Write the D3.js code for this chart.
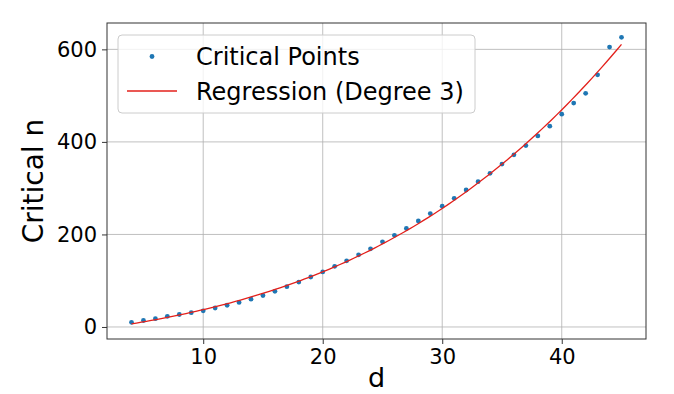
<!DOCTYPE html>
<html>
<head>
<meta charset="utf-8">
<script src="https://cdn.jsdelivr.net/npm/d3@7"></script>
<style>
  body { margin: 0; background: #fff; }
  text { font-family: "DejaVu Sans", sans-serif; fill: #000; }
</style>
</head>
<body>
<div id="chart"></div>
<script>
// critical n for each d
var dims = [4, 5, 6, 7, 8, 9, 10, 11, 12, 13, 14, 15, 16, 17, 18, 19, 20, 21, 22, 23, 24,
  25, 26, 27, 28, 29, 30, 31, 32, 33, 34, 35, 36, 37, 38, 39, 40, 41, 42, 43, 44, 45];
var critN = [10, 14, 18, 23, 27, 31, 35, 41, 47, 53, 60, 68, 77, 87, 97, 108, 119, 131, 143, 156, 169,
  184, 198, 213, 229, 245, 261, 278, 296, 314, 332, 352, 372, 392, 413, 434, 460, 484, 505, 545, 605, 626];
var xTicks = [10, 20, 30, 40];
var yTicks = [0, 200, 400, 600];
var degree = 3;

var W = 674, H = 394;
var margin = { top: 23, right: 28, bottom: 55, left: 107 };
var width = W - margin.left - margin.right;
var height = H - margin.top - margin.bottom;

var data = dims.map(function (d, i) { return { d: d, n: critN[i] }; });

// least squares polynomial fit (normal equations)
function polyfit(xs, ys, deg) {
  var m = deg + 1;
  var A = [], b = [];
  for (var r = 0; r < m; r++) {
    A.push([]);
    for (var c = 0; c < m; c++) {
      A[r].push(d3.sum(xs, function (x) { return Math.pow(x, r + c); }));
    }
    b.push(d3.sum(xs, function (x, i) { return ys[i] * Math.pow(x, r); }));
  }
  // gauss elimination
  for (var k = 0; k < m; k++) {
    var p = k;
    for (var i = k + 1; i < m; i++) if (Math.abs(A[i][k]) > Math.abs(A[p][k])) p = i;
    var t = A[k]; A[k] = A[p]; A[p] = t;
    var tb = b[k]; b[k] = b[p]; b[p] = tb;
    for (var i = k + 1; i < m; i++) {
      var f = A[i][k] / A[k][k];
      for (var j = k; j < m; j++) A[i][j] -= f * A[k][j];
      b[i] -= f * b[k];
    }
  }
  var coef = new Array(m).fill(0);
  for (var k = m - 1; k >= 0; k--) {
    var s = b[k];
    for (var j = k + 1; j < m; j++) s -= A[k][j] * coef[j];
    coef[k] = s / A[k][k];
  }
  return coef;
}
var coef = polyfit(dims, critN, degree);
var fitPts = d3.range(100).map(function (i) {
  var x = dims[0] + (dims[dims.length - 1] - dims[0]) * i / 99;
  var y = 0;
  for (var k = 0; k < coef.length; k++) y += coef[k] * Math.pow(x, k);
  return { d: x, n: y };
});

var x = d3.scaleLinear().domain([1.95, 47.05]).range([0, width]);
var y = d3.scaleLinear().domain([-26, 657]).range([height, 0]);

var svg = d3.select("#chart").append("svg")
  .attr("width", W).attr("height", H)
  .append("g")
  .attr("transform", "translate(" + margin.left + "," + margin.top + ")");

// grid
svg.append("g").selectAll("line").data(xTicks).enter().append("line")
  .attr("x1", function (d) { return x(d); }).attr("x2", function (d) { return x(d); })
  .attr("y1", 0).attr("y2", height)
  .attr("stroke", "#b0b0b0").attr("stroke-width", 0.8);
svg.append("g").selectAll("line").data(yTicks).enter().append("line")
  .attr("y1", function (d) { return y(d); }).attr("y2", function (d) { return y(d); })
  .attr("x1", 0).attr("x2", width)
  .attr("stroke", "#b0b0b0").attr("stroke-width", 0.8);

// axes
var xAxis = svg.append("g")
  .attr("transform", "translate(0," + height + ")")
  .call(d3.axisBottom(x).tickValues(xTicks).tickSize(5).tickPadding(5));
var yAxis = svg.append("g")
  .call(d3.axisLeft(y).tickValues(yTicks).tickSize(5).tickPadding(5));
[xAxis, yAxis].forEach(function (a) {
  a.select(".domain").remove();
  a.selectAll("line").attr("stroke", "#000").attr("stroke-width", 0.8);
  a.selectAll("text").style("font-family", "DejaVu Sans").style("font-size", "21px").attr("fill", "#000");
});

// scatter points
svg.append("g").selectAll("circle").data(data).enter().append("circle")
  .attr("cx", function (d) { return x(d.d); })
  .attr("cy", function (d) { return y(d.n); })
  .attr("r", 2.4)
  .attr("fill", "#1f77b4");

// regression line
var line = d3.line()
  .x(function (d) { return x(d.d); })
  .y(function (d) { return y(d.n); });
svg.append("path").datum(fitPts)
  .attr("d", line)
  .attr("fill", "none")
  .attr("stroke", "#e3201b")
  .attr("stroke-width", 1.3);

// frame
svg.append("rect")
  .attr("width", width).attr("height", height)
  .attr("fill", "none").attr("stroke", "#333").attr("stroke-width", 1);

// axis labels
svg.append("text")
  .attr("x", width / 2).attr("y", height + 48)
  .attr("text-anchor", "middle")
  .style("font-size", "27px")
  .text("d");
svg.append("text")
  .attr("transform", "translate(" + (43 - margin.left) + "," + (height / 2) + ") rotate(-90)")
  .attr("text-anchor", "middle")
  .style("font-size", "28px")
  .text("Critical n");

// legend
var lg = svg.append("g").attr("transform", "translate(" + (118 - margin.left) + "," + (35 - margin.top) + ")");
lg.append("rect")
  .attr("width", 357).attr("height", 78).attr("rx", 4)
  .attr("fill", "#fff").attr("fill-opacity", 0.8)
  .attr("stroke", "#ccc").attr("stroke-width", 1);
lg.append("circle").attr("cx", 34).attr("cy", 21.5).attr("r", 2.4).attr("fill", "#1f77b4");
lg.append("line").attr("x1", 9).attr("x2", 59).attr("y1", 56).attr("y2", 56)
  .attr("stroke", "#e3201b").attr("stroke-width", 1.3);
lg.append("text").attr("x", 78).attr("y", 30).style("font-size", "24px").text("Critical Points");
lg.append("text").attr("x", 78).attr("y", 64.5).style("font-size", "24px").text("Regression (Degree 3)");
</script>
</body>
</html>
